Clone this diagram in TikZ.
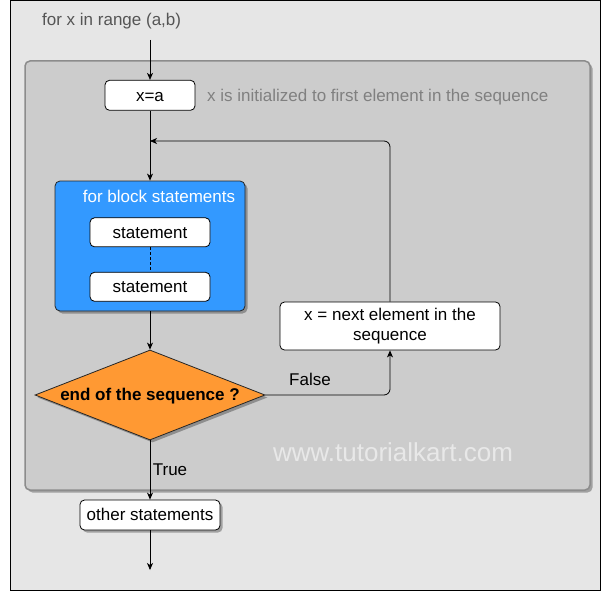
\documentclass[tikz,border=0pt]{standalone}
\usepackage{fontspec}
\setmainfont{Liberation Sans}
\usetikzlibrary{arrows.meta,shapes.geometric,shadows}
\definecolor{outerbg}{HTML}{E6E6E6}
\definecolor{innerbg}{HTML}{CCCCCC}
\definecolor{innerln}{HTML}{8C8C8C}
\definecolor{blockblue}{HTML}{3399FF}
\definecolor{decorange}{HTML}{FF9933}
\definecolor{titlegray}{HTML}{555555}
\definecolor{notegray}{HTML}{808080}
\tikzset{
  txtbase/.style={font=\fontsize{17}{20}\selectfont, inner sep=0pt},
  txt/.style={txtbase, text height=11.6pt, text depth=0pt},
  shad/.style={drop shadow={shadow xshift=2.5pt, shadow yshift=-2.5pt, opacity=0.3, fill=black}},
  boxlook/.style={draw=black, line width=0.8pt, fill=white, rounded corners=4.5pt},
  wbox/.style={txt, boxlook},
  arr/.style={draw=black, line width=0.8pt, -{Stealth[length=7pt,width=6pt,inset=2pt]}},
  ln/.style={draw=black, line width=0.8pt},
}
\begin{document}
\begin{tikzpicture}[x=1pt,y=-1pt]
\useasboundingbox (0,0) rectangle (601,591);
% outer frame
\draw[black, line width=1pt, fill=outerbg] (10.5,0.5) rectangle (600,590);
% inner container
\draw[innerln, line width=1.5pt, fill=innerbg, rounded corners=5pt, shad] (25,61) rectangle (590,490);

\node[txt, text=titlegray, anchor=west] (title) at (42,20) {for x in range (a,b)};
\coordinate (start) at (150,40);

\node[wbox, minimum width=90pt, minimum height=30pt] (init) at (150,95.3) {x=a};
\node[txt, text=notegray, anchor=west] (note) at (207,95.3) {x is initialized to first element in the sequence};

% block
\node[draw=black!85, line width=0.8pt, fill=blockblue, rounded corners=5pt, shad, minimum width=190pt, minimum height=130pt, inner sep=0pt] (block) at (150,246) {};
\node[txt, text=white] (btitle) at (159,196.3) {for block statements};
\node[wbox, minimum width=120pt, minimum height=29pt] (s1) at (150,232.3) {statement};
\node[wbox, minimum width=120pt, minimum height=29pt] (s2) at (150,286.8) {statement};
\draw[ln, dashed, dash pattern=on 3pt off 2pt] (s1.south) -- (s2.north);

% decision
\node[diamond, aspect=2.556, draw=black!85, line width=0.8pt, fill=decorange, shad, minimum width=230pt, minimum height=90pt, inner sep=0pt, font=\bfseries\fontsize{17}{20}\selectfont, text height=11.6pt, text depth=0pt] (dec) at (150,395) {end of the sequence ?};

\node[txtbase, boxlook, align=center, minimum width=220pt, minimum height=48pt] (next) at (390,326) {x = next element in the\\sequence};

\node[wbox, shad, minimum width=140pt, minimum height=30pt] (other) at (150,515) {other statements};
\coordinate (endpt) at (150,570);
\coordinate (loopin) at (150,141);

\node[txt, text=white, opacity=0.55, font=\fontsize{26}{30}\selectfont, text height=18pt] (wm) at (393,452) {www.tutorialkart.com};

% connectors
\draw[arr] (start) -- (init.north);
\draw[arr] (init.south) -- (block.north);
\draw[arr, rounded corners=6pt] (next.north) |- (loopin);
\draw[arr] (block.south) -- (dec.north);
\draw[arr, rounded corners=6pt] (dec.east) -| (next.south);
\node[txt] (lfalse) at (310,380) {False};
\draw[arr] (dec.south) -- (other.north);
\node[txt] (ltrue) at (170,470) {True};
\draw[arr] (other.south) -- (endpt);
\end{tikzpicture}
\end{document}
